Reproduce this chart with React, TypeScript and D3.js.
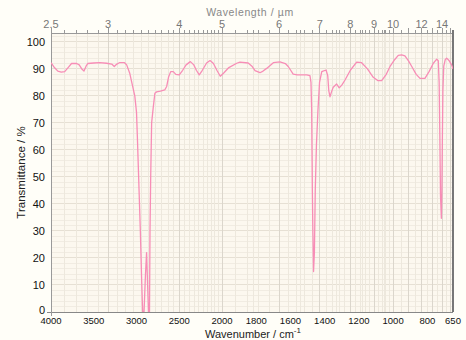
import React from 'react';
import * as d3 from 'd3';

// spectrum (wavenumber in cm-1, transmittance in %)
const wavenumbers = [
  4000, 3960, 3920, 3880, 3840, 3800, 3760, 3700, 3670, 3640, 3614, 3590, 3570, 3500, 3430, 3350,
  3290, 3260, 3230, 3200, 3140, 3115, 3080, 3045, 3020, 3000, 2990, 2975, 2955, 2940, 2928, 2912,
  2895, 2882, 2870, 2860, 2848, 2842, 2834, 2823, 2805, 2785, 2765, 2720, 2670, 2647, 2625, 2600,
  2570, 2540, 2500, 2460, 2420, 2370, 2330, 2300, 2266, 2230, 2180, 2140, 2100, 2060, 2020, 1990,
  1960, 1914, 1895, 1847, 1825, 1807, 1778, 1760, 1739, 1700, 1661, 1630, 1613, 1584, 1560, 1505,
  1486, 1480, 1476, 1472, 1469, 1468, 1465, 1460, 1455, 1448, 1439, 1430, 1417, 1392, 1382, 1376,
  1369, 1360, 1350, 1330, 1315, 1300, 1281, 1250, 1213, 1184, 1150, 1116, 1090, 1067, 1040, 1018,
  990, 970, 950, 931, 910, 891, 865, 843, 814, 790, 765, 745, 736, 731, 727, 723,
  718, 715, 712, 709, 704, 695, 687, 672, 658, 650,
];
const transmittance = [
  92.3, 90.5, 89.2, 88.8, 89.0, 90.5, 92, 92, 91.5, 90, 89.2, 91, 92, 92.2, 92.3, 92.1,
  91.8, 90.9, 91.8, 92.3, 92.3, 91.5, 88.5, 83.5, 80, 74, 65, 50, 30, 12, 0, 0,
  14, 22, 10, 0, 0, 30, 50, 70, 75.5, 81, 81.5, 81.8, 82.2, 83.5, 87, 89,
  89, 88, 87.8, 89.5, 91.5, 92.7, 91.5, 89.5, 87.8, 89.5, 92.2, 93.1, 92, 89.5, 87.3, 88.5,
  90.5, 92.1, 92.5, 92.2, 91, 89.4, 88.6, 89.2, 90.2, 92.3, 92.6, 92, 90.9, 88.1, 87.8, 87.8,
  87.5, 85, 75, 45, 30, 27, 15, 22, 45, 62, 75, 85, 89, 89.6, 87.5, 82,
  79.7, 81.5, 83.2, 84.4, 83, 84, 85.9, 89.5, 92.5, 92.3, 90, 86.9, 85.7, 85.7, 88, 90.9,
  93.5, 95, 95.2, 94.8, 93, 90.9, 88, 86.5, 86.5, 89, 92.1, 93.6, 93, 85, 66, 43,
  34.7, 45, 65, 82, 91, 93.5, 94, 93, 91.5, 90,
];

const bottomTicks = [4000, 3500, 3000, 2500, 2000, 1800, 1600, 1400, 1200, 1000, 800, 650];
const topTicks = [2.5, 3, 4, 5, 6, 7, 8, 9, 10, 12, 14];
const yTicks = [0, 10, 20, 30, 40, 50, 60, 70, 80, 90, 100];

const W = 466;
const H = 340;
const left = 51;
const right = 453;
const top = 33;
const bottom = 312;

export default function App() {
  // 2000 cm-1 is the break: the low side is drawn at twice the scale
  const x = d3.scaleLinear().domain([4000, 2000, 650]).range([left, left + 171, right]);
  const y = d3.scaleLinear().domain([0, 103.3]).range([bottom, top]);

  const points = wavenumbers.map((w, i) => [w, transmittance[i]] as [number, number]);
  const line = d3.line<[number, number]>().x(d => x(d[0])).y(d => y(d[1]));

  // wavelength grid (um)
  const fine: number[] = [];
  for (let l = 2.5; l <= 15.001; l += 0.1) {
    const v = Math.round(l * 10) / 10;
    if (v < 5 || (v < 10 && Math.round(v * 10) % 2 === 0) || Math.round(v * 10) % 5 === 0) fine.push(v);
  }
  const inRange = (l: number) => 1e4 / l <= 4000 && 1e4 / l >= 650;
  const grid = fine.filter(inRange);
  const hGrid = d3.range(0, 104, 2);

  return (
    <div style={{ position: 'fixed', left: 0, top: 0 }}>
      <svg width={W} height={H} style={{ display: 'block' }} fontFamily="'Liberation Sans', Arial, sans-serif">
        <rect width={W} height={H} fill="#fffef8" />
        <defs>
          <clipPath id="plot">
            <rect x={left} y={top} width={right - left} height={bottom - top} />
          </clipPath>
        </defs>
        <rect x={left} y={top} width={right - left} height={bottom - top} fill="#fcf8ef" />
        <g shapeRendering="crispEdges">
          {hGrid.map(v => (
            <line key={'h' + v} x1={left} x2={right} y1={y(v)} y2={y(v)}
              stroke={v % 10 === 0 ? '#e6e0d4' : '#f1ece2'} />
          ))}
          {grid.map(l => (
            <line key={'v' + l} x1={x(1e4 / l)} x2={x(1e4 / l)} y1={top} y2={bottom}
              stroke={Number.isInteger(l) ? '#dbd6cc' : '#ede8dd'} />
          ))}
          {grid.map(l => (
            <line key={'t' + l} x1={x(1e4 / l)} x2={x(1e4 / l)} y1={top} y2={top - (Number.isInteger(l) || l === 2.5 ? 5 : 3)}
              stroke="#999" />
          ))}
          <line x1={left} x2={right} y1={top} y2={top} stroke="#999" />
          <line x1={left} x2={right} y1={bottom} y2={bottom} stroke="#888" />
          <line x1={left} x2={left} y1={top} y2={bottom + 4} stroke="#999" />
          <line x1={left - 4} x2={left} y1={bottom} y2={bottom} stroke="#888" />
          <line x1={right} x2={right} y1={top - 3} y2={bottom} stroke="#777" strokeWidth={2} />
        </g>
        <path d={line(points) ?? ''} fill="none" stroke="#f78db6" strokeWidth={1.3}
          clipPath="url(#plot)" strokeLinejoin="round" />

        {yTicks.map(v => (
          <text key={'y' + v} x={left - 6} y={y(v) + (v === 0 ? 2 : 4)} textAnchor="end" fontSize={11} fill="#111">{v}</text>
        ))}
        {bottomTicks.map(v => (
          <text key={'b' + v} x={x(v)} y={bottom + 12} textAnchor="middle" fontSize={9.5} fill="#111">{v}</text>
        ))}
        {topTicks.map(v => (
          <text key={'w' + v} x={x(1e4 / v)} y={top - 5} textAnchor="middle" fontSize={11} fill="#777">{v}</text>
        ))}
        <text x={250} y={16} textAnchor="middle" fontSize={10.5} fill="#888" letterSpacing={0.6}>Wavelength / µm</text>
        <text x={253} y={338} textAnchor="middle" fontSize={11} fill="#222">
          Wavenumber / cm<tspan dy={-5} fontSize={8}>-1</tspan>
        </text>
        <text transform={`translate(25,${(top + bottom) / 2}) rotate(-90)`} textAnchor="middle" fontSize={11.5} fill="#222">
          Transmittance / %
        </text>
      </svg>
    </div>
  );
}
